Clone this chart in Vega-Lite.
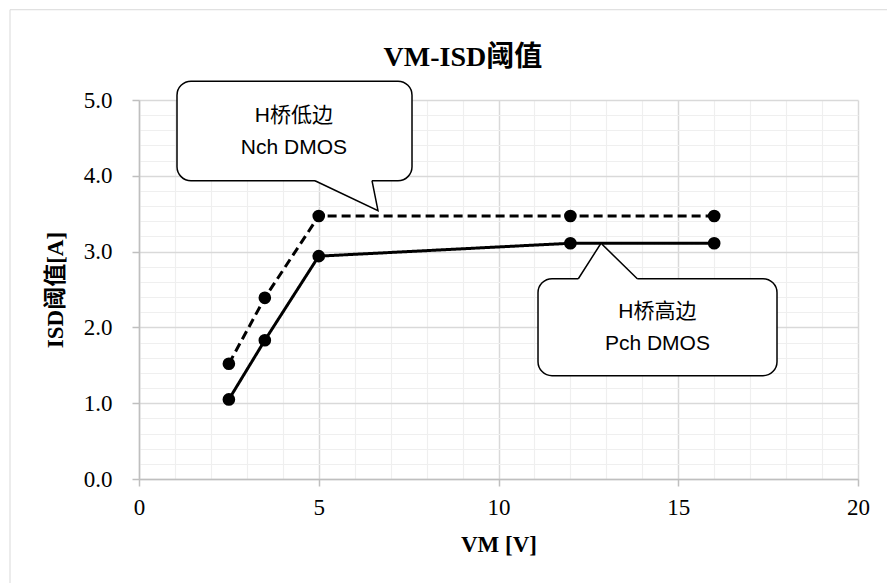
{
  "$schema": "https://vega.github.io/schema/vega-lite/v6.json",
  "width": 719,
  "height": 379,
  "autosize": {"type": "none"},
  "padding": {"left": 139, "top": 100, "right": 29, "bottom": 104},
  "background": "white",
  "config": {
    "view": {"stroke": null},
    "axis": {
      "labelFont": "Liberation Serif, Noto Sans CJK SC",
      "labelFontSize": 23,
      "labelColor": "#000000",
      "titleFont": "Liberation Serif, Noto Sans CJK SC",
      "titleFontSize": 23,
      "titleFontWeight": "bold",
      "titleColor": "#000000",
      "domainColor": "#bfbfbf",
      "domainWidth": 1.5,
      "tickColor": "#bfbfbf",
      "tickWidth": 1.5,
      "tickSize": 7
    }
  },
  "datasets": {
    "series": [
      {"VM": 2.5, "ISD": 1.52, "series": "H桥低边 Nch DMOS"},
      {"VM": 3.5, "ISD": 2.39, "series": "H桥低边 Nch DMOS"},
      {"VM": 5, "ISD": 3.47, "series": "H桥低边 Nch DMOS"},
      {"VM": 12, "ISD": 3.47, "series": "H桥低边 Nch DMOS"},
      {"VM": 16, "ISD": 3.47, "series": "H桥低边 Nch DMOS"},
      {"VM": 2.5, "ISD": 1.05, "series": "H桥高边 Pch DMOS"},
      {"VM": 3.5, "ISD": 1.83, "series": "H桥高边 Pch DMOS"},
      {"VM": 5, "ISD": 2.94, "series": "H桥高边 Pch DMOS"},
      {"VM": 12, "ISD": 3.11, "series": "H桥高边 Pch DMOS"},
      {"VM": 16, "ISD": 3.11, "series": "H桥高边 Pch DMOS"}
    ],
    "callouts": [
      {"id": "low", "x0": 1.057, "x1": 7.594, "y0": 3.935, "y1": 5.248, "tx": 4.31, "ty": 4.79, "label": "H桥低边\nNch DMOS"},
      {"id": "high", "x0": 11.099, "x1": 17.747, "y0": 1.363, "y1": 2.642, "tx": 14.42, "ty": 2.20, "label": "H桥高边\nPch DMOS"}
    ],
    "tails": [
      {"id": "low", "k": 0, "x": 4.896, "y": 3.965, "edge": false},
      {"id": "low", "k": 1, "x": 4.896, "y": 3.935, "edge": true},
      {"id": "low", "k": 2, "x": 6.648, "y": 3.54, "edge": true},
      {"id": "low", "k": 3, "x": 6.481, "y": 3.935, "edge": true},
      {"id": "low", "k": 4, "x": 6.481, "y": 3.965, "edge": false},
      {"id": "high", "k": 0, "x": 12.22, "y": 2.612, "edge": false},
      {"id": "high", "k": 1, "x": 12.22, "y": 2.642, "edge": true},
      {"id": "high", "k": 2, "x": 12.851, "y": 3.11, "edge": true},
      {"id": "high", "k": 3, "x": 13.861, "y": 2.642, "edge": true},
      {"id": "high", "k": 4, "x": 13.861, "y": 2.612, "edge": false}
    ]
  },
  "layer": [
    {
      "data": {"name": "series"},
      "mark": {"type": "line", "color": "black", "strokeWidth": 3},
      "encoding": {
        "x": {"field": "VM", "type": "quantitative", "scale": {"domain": [0, 20], "nice": false, "zero": false},
          "axis": {
            "title": "VM [V]",
            "titlePadding": 14,
            "values": [0,1,2,3,4,5,6,7,8,9,10,11,12,13,14,15,16,17,18,19,20],
            "tickCount": 100,
            "format": "d",
            "labelExpr": "datum.value % 5 === 0 ? datum.label : ''",
            "labelPadding": 10,
            "labelFlush": false,
            "labelOverlap": false,
            "grid": true,
            "gridColor": {"condition": {"test": "datum.value % 5 === 0", "value": "#d9d9d9"}, "value": "#efefef"},
            "gridWidth": {"condition": {"test": "datum.value % 5 === 0", "value": 1.5}, "value": 1.2},
            "tickOpacity": {"condition": {"test": "datum.value % 5 === 0", "value": 1}, "value": 0}
          }},
        "y": {"field": "ISD", "type": "quantitative", "scale": {"domain": [0, 5], "nice": false, "zero": true},
          "axis": {
            "title": "ISD阈值[A]",
            "titlePadding": 16,
            "values": [0,0.2,0.4,0.6,0.8,1,1.2,1.4,1.6,1.8,2,2.2,2.4,2.6,2.8,3,3.2,3.4,3.6,3.8,4,4.2,4.4,4.6,4.8,5],
            "tickCount": 100,
            "format": ".1f",
            "labelExpr": "abs(datum.value - round(datum.value)) < 0.001 ? datum.label : ''",
            "labelPadding": 20,
            "labelFlush": false,
            "labelOverlap": false,
            "grid": true,
            "gridColor": {"condition": {"test": "abs(datum.value - round(datum.value)) < 0.001", "value": "#d9d9d9"}, "value": "#efefef"},
            "gridWidth": {"condition": {"test": "abs(datum.value - round(datum.value)) < 0.001", "value": 1.5}, "value": 1.2},
            "tickOpacity": {"condition": {"test": "abs(datum.value - round(datum.value)) < 0.001", "value": 1}, "value": 0}
          }},
        "strokeDash": {"field": "series", "type": "nominal",
          "scale": {"domain": ["H桥低边 Nch DMOS", "H桥高边 Pch DMOS"], "range": [[9, 5], [1, 0]]},
          "legend": null}
      }
    },
    {
      "data": {"values": [{}]},
      "mark": {"type": "rect", "fill": null, "stroke": "#d9d9d9", "strokeWidth": 1},
      "encoding": {
        "x": {"datum": -3.588, "type": "quantitative"},
        "x2": {"datum": 21.5},
        "y": {"datum": 6.191, "type": "quantitative"},
        "y2": {"datum": -1.6}
      }
    },
    {
      "data": {"name": "series"},
      "mark": {"type": "point", "shape": "circle", "filled": true, "color": "black", "opacity": 1, "size": 160},
      "encoding": {
        "x": {"field": "VM", "type": "quantitative"},
        "y": {"field": "ISD", "type": "quantitative"},
        "detail": {"field": "series"}
      }
    },
    {
      "data": {"name": "callouts"},
      "mark": {"type": "rect", "fill": "white", "stroke": "black", "strokeWidth": 1.5, "cornerRadius": 14},
      "encoding": {
        "x": {"field": "x0", "type": "quantitative"},
        "x2": {"field": "x1"},
        "y": {"field": "y0", "type": "quantitative"},
        "y2": {"field": "y1"}
      }
    },
    {
      "data": {"name": "tails"},
      "mark": {"type": "line", "fill": "white", "stroke": null, "strokeWidth": 0},
      "encoding": {
        "x": {"field": "x", "type": "quantitative"},
        "y": {"field": "y", "type": "quantitative"},
        "detail": {"field": "id"},
        "order": {"field": "k"}
      }
    },
    {
      "data": {"name": "tails"},
      "transform": [{"filter": "datum.edge"}],
      "mark": {"type": "line", "stroke": "black", "strokeWidth": 1.5},
      "encoding": {
        "x": {"field": "x", "type": "quantitative"},
        "y": {"field": "y", "type": "quantitative"},
        "detail": {"field": "id"},
        "order": {"field": "k"}
      }
    },
    {
      "data": {"name": "callouts"},
      "mark": {"type": "text", "font": "Liberation Sans, Noto Sans CJK SC", "fontSize": 21, "color": "#000000", "lineBreak": "\n", "lineHeight": 32, "align": "center", "baseline": "middle"},
      "encoding": {
        "x": {"field": "tx", "type": "quantitative"},
        "y": {"field": "ty", "type": "quantitative"},
        "text": {"field": "label"}
      }
    },
    {
      "data": {"values": [{"title": "VM-ISD阈值"}]},
      "mark": {"type": "text", "font": "Liberation Serif, Noto Sans CJK SC", "fontSize": 28, "fontWeight": "bold", "color": "#000000", "align": "center", "baseline": "alphabetic"},
      "encoding": {
        "x": {"datum": 9.01, "type": "quantitative"},
        "y": {"datum": 5.453, "type": "quantitative"},
        "text": {"field": "title"}
      }
    }
  ]
}
